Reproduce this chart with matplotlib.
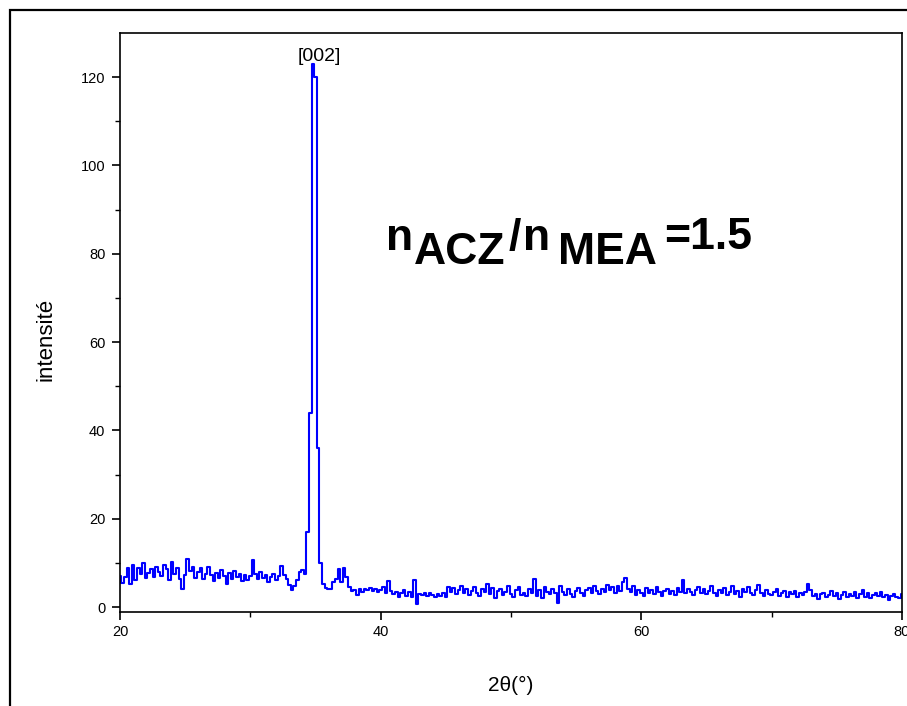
import numpy as np
import matplotlib
matplotlib.use('Agg')
import matplotlib.pyplot as plt
from matplotlib.patches import Rectangle

# ---- data (0.2 deg step) ----
theta_start = 20.0
theta_step = 0.2

# 20.0 - 33.8
seg_low = [7.0, 5.5, 6.8, 8.9, 5.2, 9.6, 6.1, 8.8, 7.4, 9.9,
           6.5, 7.8, 8.6, 6.9, 9.2, 8.0, 7.1, 9.5, 8.7, 6.2,
           10.3, 7.6, 8.9, 6.4, 4.1, 7.3, 10.8, 8.2, 9.1, 6.7,
           7.9, 8.8, 6.3, 7.5, 9.0, 7.2, 6.0, 7.8, 6.6, 8.3,
           7.0, 5.3, 7.7, 6.4, 8.1, 6.8, 7.4, 5.9, 7.3, 6.2,
           7.1, 10.6, 7.5, 6.4, 7.9, 6.6, 7.2, 5.8, 6.9, 7.4,
           6.1, 7.0, 9.4, 7.2, 6.3, 5.1, 3.9, 4.8, 6.2, 7.9]
# 34.0 - 35.8  ([002] reflection)
seg_peak = [8.3, 7.6, 17.0, 44.0, 123.0, 120.0, 36.0, 10.0, 5.2, 4.3]
# 36.0 - 39.8
seg_mid = [4.0, 4.2, 5.6, 6.4, 8.6, 5.8, 8.9, 6.8, 4.5, 3.6,
           3.9, 2.8, 4.1, 3.5, 4.2, 3.8, 4.4, 3.6, 4.0, 3.4]
# 40.0 - 80.0
seg_high = [3.9, 4.6, 3.2, 6.0, 3.7, 2.9, 3.5, 2.4, 3.1, 3.8,
            2.6, 3.4, 2.2, 6.1, 0.6, 3.0, 2.7, 3.3, 2.5, 3.1,
            2.8, 2.3, 3.0, 2.6, 3.2, 2.4, 4.6, 3.5, 4.4, 3.0,
            3.9, 4.8, 3.3, 4.1, 2.7, 3.6, 4.5, 3.1, 2.6, 4.0,
            3.4, 5.2, 2.9, 4.3, 2.0, 3.7, 4.2, 2.8, 3.5, 4.7,
            3.0, 2.3, 3.9, 4.5, 2.7, 3.3, 2.5, 4.1, 3.2, 6.3,
            2.6, 3.8, 2.1, 4.6, 3.4, 2.9, 4.0, 3.1, 1.0, 4.9,
            3.5, 2.8, 4.2, 3.0, 2.4, 3.7, 4.4, 3.2, 2.6, 3.9,
            4.3, 3.1, 4.8, 3.6, 2.9, 4.1, 3.4, 5.1, 3.8, 4.5,
            3.2, 4.9, 3.7, 5.6, 6.6, 4.2, 3.5, 4.8, 2.7, 3.9,
            3.3, 2.5, 4.4, 3.1, 3.8, 2.9, 4.6, 3.4, 2.6, 3.7,
            4.1, 3.0, 3.6, 2.8, 4.3, 3.5, 6.1, 3.2, 4.0, 3.4,
            2.7, 3.8, 4.5, 3.1, 4.2, 2.9, 3.6, 4.8, 3.3, 2.5,
            3.9, 3.2, 4.4, 2.8, 3.5, 4.9, 3.0, 3.7, 2.4, 4.1,
            3.4, 4.6, 3.1, 2.7, 3.8, 5.0, 3.3, 2.6, 3.9, 3.0,
            2.8, 3.5, 4.1, 2.5, 3.2, 3.7, 2.2, 3.4, 2.9, 3.6,
            2.4, 3.1, 2.7, 3.5, 5.3, 3.9, 2.6, 3.0, 1.8, 2.9,
            3.3, 2.2, 2.8, 3.6, 2.5, 3.1, 1.9, 2.7, 3.4, 2.3,
            3.0, 2.6, 3.5, 2.1, 2.9, 3.8, 2.4, 3.2, 2.0, 2.7,
            3.1, 2.5, 3.4, 2.2, 2.8, 1.7, 2.6, 3.0, 2.3, 2.1,
            2.9]

intensity = np.array(seg_low + seg_peak + seg_mid + seg_high)
two_theta = np.round(theta_start + theta_step * np.arange(len(intensity)), 1)

peak_label = '[002]'
peak_pos = (35.3, 124.6)
x_ticks = [20, 40, 60, 80]
y_ticks = [0, 20, 40, 60, 80, 100, 120]

# ---- figure ----
plt.rcParams['font.family'] = ['Liberation Sans', 'DejaVu Sans']
W, H = 907, 706
fig = plt.figure(figsize=(W / 100, H / 100), dpi=100)
ax = fig.add_axes([120 / W, 1 - 612 / H, 782 / W, 579 / H])

ax.plot(two_theta, intensity, color='#0000ff', linewidth=1.5, drawstyle='steps-mid')

ax.set_xlim(20, 80)
ax.set_ylim(-1.1, 130)
ax.set_xticks(x_ticks)
ax.set_xticks([30, 50, 70], minor=True)
ax.set_yticks(y_ticks)
ax.set_yticks([10, 30, 50, 70, 90, 110], minor=True)

for s in ax.spines.values():
    s.set_linewidth(1.2)
ax.tick_params(which='major', direction='out', length=5.5, width=1.2, labelsize=10.5)
ax.tick_params(which='minor', direction='out', length=3.5, width=1.0)
ax.tick_params(axis='x', pad=4)
ax.tick_params(axis='y', pad=5)

ax.set_xlabel('2θ(°)', fontsize=15)
ax.set_ylabel('intensité', fontsize=16)
ax.xaxis.set_label_coords(0.5, -0.11)
ax.yaxis.set_label_coords(-0.081, 0.47)

ax.text(peak_pos[0], peak_pos[1], peak_label, ha='center', va='center', fontsize=14)

# ratio label, built from pieces (pixel positions: left, baseline)
pieces = [('n', 386, 250), ('ACZ', 414, 264), ('/', 509, 250), ('n', 523, 250),
          ('MEA', 558, 264), ('=1.5', 664, 249)]
for txt, px, py in pieces:
    fig.text(px / W, 1 - py / H, txt, fontsize=32, fontweight='bold',
             ha='left', va='baseline')

# outer frame of the pasted figure
fig.patches.append(Rectangle((10 / W, -0.05), 1.2, 1 - 10 / H + 0.05,
                             transform=fig.transFigure, fill=False,
                             edgecolor='black', linewidth=1.6))

fig.savefig('out.png', dpi=100)
